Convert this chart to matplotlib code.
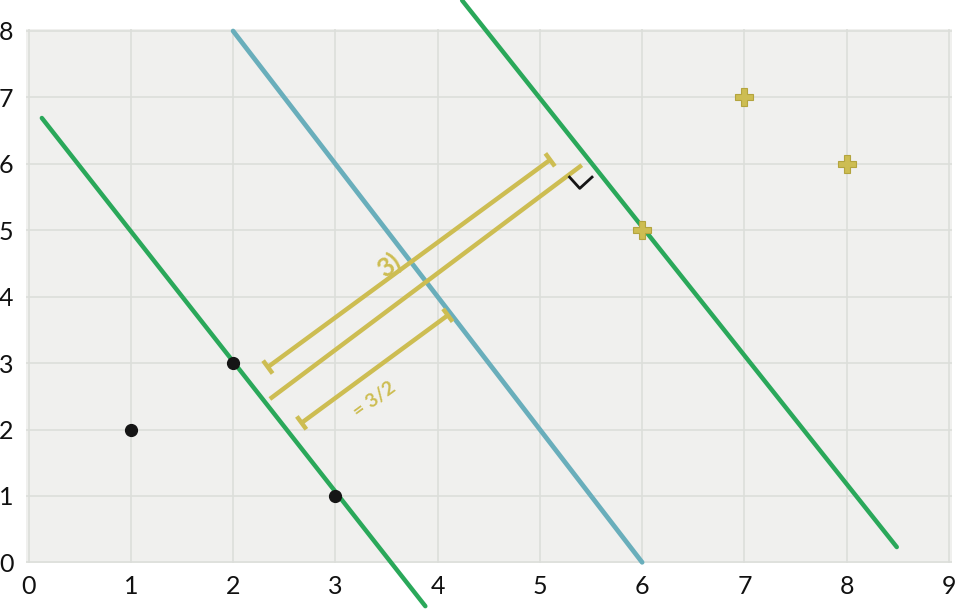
import matplotlib
matplotlib.use("Agg")
import matplotlib.pyplot as plt
import numpy as np

# data
neg_x = [1, 2, 3]
neg_y = [2, 3, 1]
pos_x = [6, 7, 8]
pos_y = [5, 7, 6]

# boundary lines (endpoints)
left_margin_x = [0.13, 3.88]
left_margin_y = [6.69, -0.66]
boundary_x = [2.0, 6.0]
boundary_y = [8.0, 0.0]
right_margin_x = [4.24, 8.49]
right_margin_y = [8.46, 0.23]

# annotation segments
seg1_x = [2.34, 5.10]
seg1_y = [2.94, 6.06]
seg2_x = [2.36, 5.41]
seg2_y = [2.46, 5.98]
seg3_x = [2.67, 4.10]
seg3_y = [2.10, 3.72]
check_x = [5.29, 5.39, 5.51]
check_y = [5.80, 5.63, 5.80]

xticks = [0, 1, 2, 3, 4, 5, 6, 7, 8, 9]
yticks = [0, 1, 2, 3, 4, 5, 6, 7, 8]

GREEN = "#2AA85A"
BLUE = "#69AEBB"
YELLOW = "#CDBD52"
BLACK = "#151515"

plt.rcParams['font.family'] = ['Lato', 'DejaVu Sans']

fig = plt.figure(figsize=(9.58, 6.09), dpi=100)
ax = fig.add_axes([26/958, 1-563/609, (952-26)/958, (563-29)/609])
ax.set_facecolor("#F0F0EE")
for s in ax.spines.values():
    s.set_visible(False)
ax.set_xlim(-0.025, 9.03)
ax.set_ylim(-0.01, 8.03)
ax.set_xticks(xticks)
ax.set_yticks(yticks)
ax.tick_params(length=0, labelsize=18, colors="#111111", pad=9)
ax.grid(True, color="#DCDEDA", linewidth=1.2)
ax.set_axisbelow(True)

ax.plot(left_margin_x, left_margin_y, color=GREEN, lw=3.2, clip_on=False, solid_capstyle='round')
ax.plot(boundary_x, boundary_y, color=BLUE, lw=3.4, clip_on=False, solid_capstyle='round')
ax.plot(right_margin_x, right_margin_y, color=GREEN, lw=3.2, clip_on=False, solid_capstyle='round')

# annotation segments with perpendicular caps
def capped(xs, ys, caps=True):
    ax.plot(xs, ys, color=YELLOW, lw=3.2, solid_capstyle='butt', zorder=3)
    if caps:
        p = ax.transData.transform(np.column_stack([xs, ys]))
        d = p[1] - p[0]
        d = d / np.hypot(*d)
        n = np.array([-d[1], d[0]]) * 8
        inv = ax.transData.inverted()
        for q in p:
            a = inv.transform(q - n)
            b = inv.transform(q + n)
            ax.plot([a[0], b[0]], [a[1], b[1]], color=YELLOW, lw=3.2, solid_capstyle='butt', zorder=3)

capped(seg1_x, seg1_y)
capped(seg2_x, seg2_y, caps=False)
capped(seg3_x, seg3_y)

ax.plot(check_x, check_y, color=BLACK, lw=2, zorder=4)

ax.text(3.52, 4.47, "3)", color=YELLOW, fontsize=19, rotation=36,
        ha='center', va='center', zorder=4, fontweight='bold')
ax.text(3.38, 2.45, "= 3/2", color=YELLOW, fontsize=14, rotation=36,
        ha='center', va='center', zorder=4, fontweight='bold')

ax.plot(neg_x, neg_y, 'o', color=BLACK, markersize=8.5, zorder=5)
ax.plot(pos_x, pos_y, 'P', color=YELLOW, markersize=13, markeredgecolor="#B3A43E",
        markeredgewidth=0.8, zorder=5)

fig.savefig("out.png", dpi=100, facecolor="white")
